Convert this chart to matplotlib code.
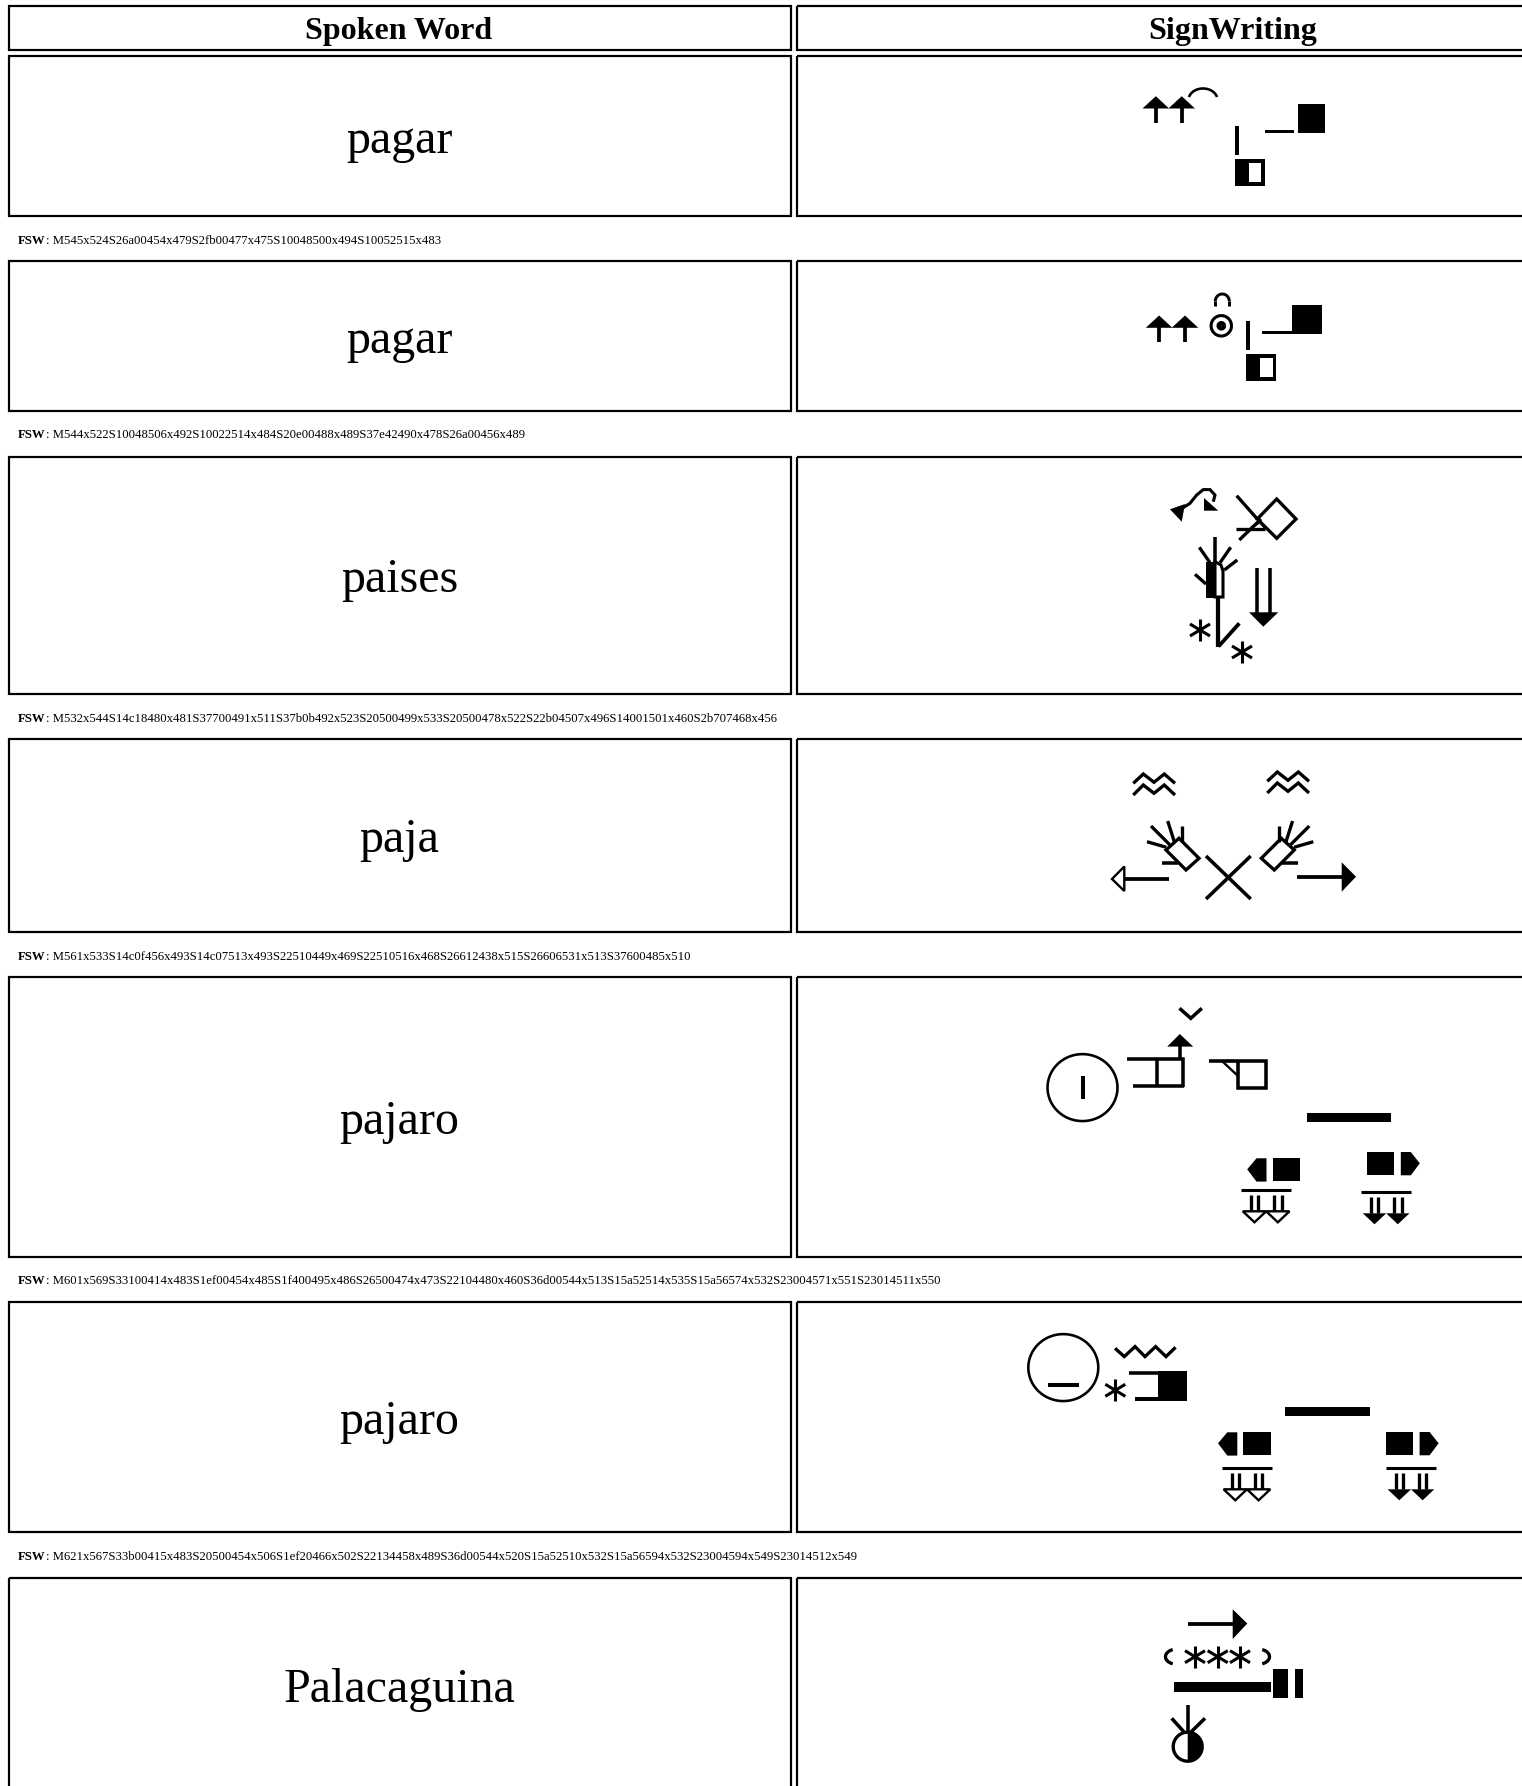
import re
import numpy as np
import matplotlib
matplotlib.use('Agg')
import matplotlib.pyplot as plt
from matplotlib.patches import Polygon, Rectangle

plt.rcParams['font.family'] = ['Liberation Serif', 'DejaVu Serif']

HEADERS = ['Spoken Word', 'SignWriting']
WORDS = ['pagar', 'pagar', 'paises', 'paja', 'pajaro', 'pajaro', 'Palacaguina']
FSW = [
	'M545x524S26a00454x479S2fb00477x475S10048500x494S10052515x483',
	'M544x522S10048506x492S10022514x484S20e00488x489S37e42490x478S26a00456x489',
	'M532x544S14c18480x481S37700491x511S37b0b492x523S20500499x533S20500478x522S22b04507x496S14001501x460S2b707468x456',
	'M561x533S14c0f456x493S14c07513x493S22510449x469S22510516x468S26612438x515S26606531x513S37600485x510',
	'M601x569S33100414x483S1ef00454x485S1f400495x486S26500474x473S22104480x460S36d00544x513S15a52514x535S15a56574x532S23004571x551S23014511x550',
	'M621x567S33b00415x483S20500454x506S1ef20466x502S22134458x489S36d00544x520S15a52510x532S15a56594x532S23004594x549S23014512x549',
]

# layout in pixels of the page
W, H = 1522, 1786
PX = 72 / 100
STROKE = 1.18  # the sign images are a bit blurred, so their strokes read thicker
HEAD_Y = (6, 50)
ROW_Y = [(56, 216), (261, 411), (457, 694), (739, 932), (977, 1257), (1302, 1532), (1578, 1793)]
# where FSW coordinate (0,0) lands for each row, FSW units are 2 px
SIGN_ORIGIN = [(234.5, -862.5), (233.8, -663.2), (234, -425), (235, -165), (218.5, 87.3), (197.3, 367.3)]
LEFT_X = (8.6, 790.5)
RIGHT_X = (797, 1535)

fig = plt.figure(figsize=(W / 100, H / 100), dpi=100, facecolor='white')
ax = fig.add_axes([0, 0, 1, 1])
ax.set_xlim(0, W)
ax.set_ylim(H, 0)
ax.axis('off')
ax.set_autoscale_on(False)


def line(ox, oy, pts, w=3.0, cap='butt'):
	xs = [ox + p[0] for p in pts]
	ys = [oy + p[1] for p in pts]
	ax.plot(xs, ys, color='black', lw=w * STROKE * PX, solid_capstyle=cap, solid_joinstyle='miter')


def poly(ox, oy, pts, fc='black', w=0.0):
	shifted = [(ox + p[0], oy + p[1]) for p in pts]
	ax.add_patch(Polygon(shifted, closed=True, facecolor=fc, edgecolor='black', lw=w * STROKE * PX, joinstyle='miter'))


def box(ox, oy, x1, y1, x2, y2, fc='black'):
	poly(ox, oy, [(x1, y1), (x2, y1), (x2, y2), (x1, y2)], fc=fc)


def arc(ox, oy, cx, cy, rx, ry, t1, t2, w=2.5):
	t = np.radians(np.linspace(t1, t2, 60))
	ax.plot(ox + cx + rx * np.cos(t), oy + cy + ry * np.sin(t), color='black', lw=w * STROKE * PX, solid_capstyle='butt')


def star(ox, oy, cx=10, cy=11):
	line(ox, oy, [(cx, cy - 11), (cx, cy + 11)], 2.6)
	line(ox, oy, [(cx - 10, cy - 6), (cx + 10, cy + 6)], 2.6)
	line(ox, oy, [(cx - 10, cy + 6), (cx + 10, cy - 6)], 2.6)


def up_arrows(ox, oy):
	for c in (13.3, 39.2):
		poly(ox, oy, [(c - 13.3, 13), (c, 0.7), (c + 13.3, 13)])
		line(ox, oy, [(c, 12), (c, 27)], 3.2)


def curve_top(ox, oy):
	arc(ox, oy, 14.5, 12.5, 14.5, 11.5, 195, 345, 2.2)


def hand_half(ox, oy):
	box(ox, oy, 0, 0, 4, 29.3)
	box(ox, oy, 0, 33.7, 30.5, 60.3)
	box(ox, oy, 14, 37.7, 26.7, 56.7, fc='white')


def hand_fist_far(ox, oy):
	box(ox, oy, 0, 26, 29.3, 29.7)
	box(ox, oy, 33.7, 0, 60, 29.7)


def hand_fist_near(ox, oy):
	box(ox, oy, 0, 26.3, 30, 29.7)
	box(ox, oy, 30, 0, 60, 29.7)


def target(ox, oy):
	arc(ox, oy, 11.5, 11, 10.2, 10.2, 0, 360, 2.6)
	arc(ox, oy, 11.5, 11, 2.2, 2.2, 0, 360, 4.4)


def small_arch(ox, oy):
	line(ox, oy, [(1.5, 13.3), (1.5, 8.5)], 2.5)
	line(ox, oy, [(15.5, 13.3), (15.5, 8.5)], 2.5)
	arc(ox, oy, 8.5, 8.5, 7, 7.3, 180, 360, 2.5)


def curved_arrow(ox, oy):
	poly(ox, oy, [(0, 22.3), (15, 17), (11.7, 34.7)])
	line(ox, oy, [(12.7, 21), (20, 16.3), (26.7, 8), (33.3, 2.6), (40, 2.6), (45, 8), (43.3, 14.7)], 2.6)
	poly(ox, oy, [(34, 11), (48.3, 23.7), (34, 23.7)])


def diamond_hand(ox, oy):
	poly(ox, oy, [(40.7, 4), (60, 24), (40.7, 43.3), (21.3, 24)], fc='none', w=2.8)
	line(ox, oy, [(0.7, 0.7), (21.3, 24)], 2.8)
	line(ox, oy, [(0, 34), (29, 34)], 2.8)
	line(ox, oy, [(3.3, 45), (25, 24)], 2.8)
	line(ox, oy, [(15, 33), (24, 27), (29, 33)], 2)


def spread_hand(ox, oy):
	box(ox, oy, 12, 24.7, 21, 61.3)
	poly(ox, oy, [(21, 24.7), (27, 28), (29, 34), (29, 60), (21, 60)], fc='white', w=2.6)
	line(ox, oy, [(21, 0.3), (21, 24.7)], 3)
	line(ox, oy, [(5.3, 10.3), (16, 25.7)], 2.8)
	line(ox, oy, [(36.7, 10.3), (26, 25.7)], 2.8)
	line(ox, oy, [(43.3, 23), (30.3, 33)], 2.8)
	line(ox, oy, [(1, 37.3), (12, 47)], 2.8)


def arm_down(ox, oy):
	line(ox, oy, [(1.5, 0), (1.5, 49.5)], 3.6)


def arm_diag(ox, oy):
	line(ox, oy, [(0.5, 25.5), (21.3, 2.3)], 3.2)


def double_down(ox, oy):
	line(ox, oy, [(8.7, 0.5), (8.7, 46)], 3)
	line(ox, oy, [(22, 0.5), (22, 46)], 3)
	poly(ox, oy, [(1, 45.3), (30.3, 45.3), (15.3, 59.7)])


def tilted_hand(ox, oy, mirror=False):
	def f(pts):
		return [(52.3 - p[0], p[1]) for p in pts] if mirror else pts
	line(ox, oy, f([(4, 5), (23, 24)]), 2.8)
	line(ox, oy, f([(20.7, 0), (27.3, 20.7)]), 2.8)
	line(ox, oy, f([(34.7, 5), (34.7, 21)]), 2.8)
	line(ox, oy, f([(0, 20.7), (19.3, 26.3)]), 2.8)
	line(ox, oy, f([(15.3, 41.7), (31.3, 41.7)]), 3)
	poly(ox, oy, f([(19, 29), (32, 17.3), (52, 37.3), (39, 49)]), fc='white', w=2.8)


def double_wave(ox, oy):
	line(ox, oy, [(0.3, 10.3), (10.3, 1), (21, 9.3), (31.3, 1), (42, 10.3)], 2.8)
	line(ox, oy, [(0.3, 22), (10.3, 12), (21, 20.3), (31.3, 12), (42, 22)], 2.8)


def open_left_arrow(ox, oy):
	poly(ox, oy, [(1, 14), (13.3, 1.5), (13.3, 26)], fc='white', w=2)
	line(ox, oy, [(13.3, 14), (58.3, 14)], 3.2)


def solid_right_arrow(ox, oy):
	line(ox, oy, [(0, 15.7), (45, 15.7)], 3.2)
	poly(ox, oy, [(44.7, 1.3), (59, 15.7), (44.7, 30.7)])


def cross(ox, oy):
	line(ox, oy, [(1, 1), (45.7, 44)], 3)
	line(ox, oy, [(45.7, 1), (1, 44)], 3)


def face_vert(ox, oy):
	arc(ox, oy, 36, 34.3, 35, 33.5, 0, 360, 2.2)
	line(ox, oy, [(36, 22.7), (36, 46)], 3.4)


def face_horiz(ox, oy):
	arc(ox, oy, 36, 34.3, 35, 33.5, 0, 360, 2.2)
	line(ox, oy, [(20.7, 52), (51.7, 52)], 3.4)


def open_box_hand(ox, oy):
	line(ox, oy, [(0, 1.7), (56, 1.7), (56, 30)], 3)
	line(ox, oy, [(6, 28.3), (57.5, 28.3)], 3)
	line(ox, oy, [(30, 1.7), (30, 28.3)], 3)


def box_hand_thumb(ox, oy):
	line(ox, oy, [(0, 1.3), (57.7, 1.3), (57.7, 29), (29, 29), (29, 1.3)], 3)
	poly(ox, oy, [(13.3, 1.3), (29, 1.3), (29, 17)], fc='white', w=2)


def up_arrow(ox, oy):
	poly(ox, oy, [(0.7, 13.3), (13.3, 0.7), (26.7, 13.3)])
	line(ox, oy, [(13.3, 13), (13.3, 26)], 3)


def chevron(ox, oy):
	line(ox, oy, [(1, 1), (12.3, 11), (23.3, 1)], 3)


def mouth_bar(ox, oy):
	box(ox, oy, 0, 0, 84.3, 8.3)


def foot_left(ox, oy):
	poly(ox, oy, [(0.7, 12), (10, 1), (20, 1), (20, 24.3), (10, 24.3)])
	box(ox, oy, 26, 0.3, 53.7, 24)


def foot_right(ox, oy):
	box(ox, oy, 0.3, 0.7, 27.7, 24)
	poly(ox, oy, [(34.3, 0.7), (44.3, 0.7), (53.3, 12), (44.3, 24), (34.3, 24)])


def down_pair(ox, oy, fc):
	line(ox, oy, [(0.5, 2.3), (50.3, 2.3)], 2.6)
	for x in (10.3, 17.7, 33.7, 41):
		line(ox, oy, [(x, 8), (x, 24)], 2.8)
	w = 0 if fc == 'black' else 2
	poly(ox, oy, [(2.3, 24), (25.7, 24), (14, 35)], fc=fc, w=w)
	poly(ox, oy, [(25.7, 24), (49, 24), (37.3, 35)], fc=fc, w=w)


def half_box_hand(ox, oy):
	line(ox, oy, [(0, 1.5), (29, 1.5)], 3)
	box(ox, oy, 28.3, 0, 58, 29.3)
	box(ox, oy, 5.7, 26, 28.3, 29.3)


def zigzag(ox, oy):
	line(ox, oy, [(1.7, 3), (11, 11.3), (21.7, 1.3), (31.7, 11.3), (42.3, 1.3), (52.7, 11.3), (62.3, 2)], 2.8)


GLYPHS = {
	'26a00': up_arrows, '2fb00': curve_top, '10048': hand_half, '10052': hand_fist_far,
	'10022': hand_fist_near, '20e00': target, '37e42': small_arch, '2b707': curved_arrow,
	'14001': diamond_hand, '14c18': spread_hand, '37700': arm_down, '37b0b': arm_diag,
	'20500': star, '22b04': double_down, '14c0f': tilted_hand,
	'14c07': lambda x, y: tilted_hand(x, y, True), '22510': double_wave,
	'26612': open_left_arrow, '26606': solid_right_arrow, '37600': cross,
	'33100': face_vert, '33b00': face_horiz, '1ef00': open_box_hand, '1f400': box_hand_thumb,
	'26500': up_arrow, '22104': chevron, '36d00': mouth_bar, '15a52': foot_left,
	'15a56': foot_right, '23004': lambda x, y: down_pair(x, y, 'black'),
	'23014': lambda x, y: down_pair(x, y, 'white'), '1ef20': half_box_hand, '22134': zigzag,
}


def cell(x, y):
	ax.add_patch(Rectangle((x[0], y[0]), x[1] - x[0], y[1] - y[0], fill=False, edgecolor='black', lw=2.2 * PX))


def last_sign():
	# the last row's FSW is cut off by the page, so it sits in page pixels
	ox, oy = 1140, 1590
	line(ox, oy, [(48, 33.5), (94, 33.5)], 3.2)
	poly(ox, oy, [(92.7, 19.3), (107.3, 33.5), (92.7, 49)])
	for cx in (55, 77.7, 100):
		star(ox, oy, cx, 66.7)
	arc(ox, oy, 36.5, 66.7, 11, 7.5, 110, 250, 2.8)
	arc(ox, oy, 118.5, 66.7, 11, 7.5, -70, 70, 2.8)
	box(ox, oy, 34.3, 92.3, 130.7, 102)
	box(ox, oy, 132.7, 79, 148.3, 108.3)
	box(ox, oy, 155, 79, 163, 108.3)
	line(ox, oy, [(47.7, 115), (47.7, 143)], 3)
	line(ox, oy, [(31.7, 128.3), (44, 142)], 3)
	line(ox, oy, [(65, 128.3), (51, 142)], 3)
	arc(ox, oy, 47.7, 156.7, 14.5, 14.5, 0, 360, 2.8)
	t = np.radians(np.linspace(-90, 90, 40))
	poly(ox, oy, list(zip(47.7 + 15 * np.cos(t), 156.7 + 15 * np.sin(t))))


# header row
cell(LEFT_X, HEAD_Y)
cell(RIGHT_X, HEAD_Y)
for xr, label in zip((LEFT_X, RIGHT_X), HEADERS):
	cx = 399 if xr is LEFT_X else 1233
	ax.text(cx, HEAD_Y[0] + 33.2, label, fontsize=32 * PX, fontweight='bold', ha='center', va='baseline')

# table rows
renderer = fig.canvas.get_renderer()
for i, word in enumerate(WORDS):
	y = ROW_Y[i]
	cell(LEFT_X, y)
	cell(RIGHT_X, y)
	ax.text(399.5, (y[0] + y[1]) / 2 + 17, word, fontsize=48 * PX, ha='center', va='baseline')

	if i < len(FSW):
		fsw_y = y[1] + 27.5
		lab = ax.text(18, fsw_y, 'FSW', fontsize=12.8 * PX, fontweight='bold', va='baseline')
		lab_w = lab.get_window_extent(renderer).width
		ax.text(18 + lab_w, fsw_y, ': ' + FSW[i], fontsize=12.8 * PX, va='baseline')

		x0, y0 = SIGN_ORIGIN[i]
		for code, sx, sy in re.findall(r'S([0-9a-f]{5})(\d{3})x(\d{3})', FSW[i]):
			GLYPHS[code](x0 + 2 * int(sx), y0 + 2 * int(sy))

last_sign()

fig.savefig('out.png', dpi=100)
